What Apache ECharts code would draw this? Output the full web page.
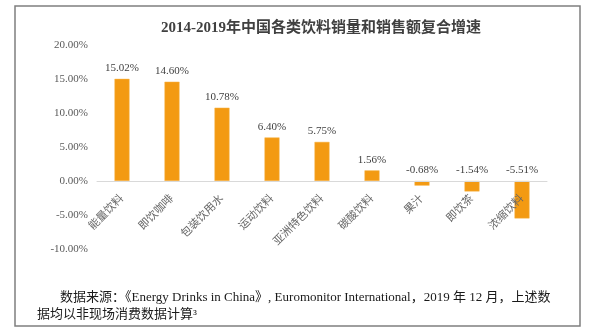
<!DOCTYPE html>
<html><head><meta charset="utf-8">
<script src="https://cdn.jsdelivr.net/npm/echarts@6/dist/echarts.min.js"></script>
<style>html,body{margin:0;padding:0;background:#fff}#c{width:595px;height:330px}</style>
</head><body><div id="c"></div>
<script>
const categories = ['能量饮料','即饮咖啡','包装饮用水','运动饮料','亚洲特色饮料','碳酸饮料','果汁','即饮茶','浓缩饮料'];
const values = [15.02, 14.60, 10.78, 6.40, 5.75, 1.56, -0.68, -1.54, -5.51];
const titleText = '2014-2019年中国各类饮料销量和销售额复合增速';
const noteLine1 = '数据来源：《Energy Drinks in China》, Euromonitor International，2019 年 12 月，上述数';
const noteLine2 = '据均以非现场消费数据计算³';

const serif = '"Liberation Serif","DejaVu Serif","Noto Sans CJK SC",serif';
const chart = echarts.init(document.getElementById('c'), null, {renderer:'canvas'});
chart.setOption({
  animation:false,
  title:{text:titleText,left:316,top:16,textAlign:'center',
    textStyle:{fontFamily:serif,fontSize:15,fontWeight:'bold',color:'#404040'}},
  grid:{left:97,right:48,top:45,bottom:81},
  xAxis:{type:'category',data:categories,z:5,
    axisLine:{onZero:true,lineStyle:{color:'#d9d9d9',width:1}},
    axisTick:{show:false},
    axisLabel:{rotate:45,interval:0,margin:-52,fontFamily:serif,fontSize:11,color:'#666'}},
  yAxis:{type:'value',min:-10,max:20,interval:5,
    axisLine:{show:false},axisTick:{show:false},splitLine:{show:false},
    axisLabel:{formatter:v=>v.toFixed(2)+'%',margin:9,fontFamily:serif,fontSize:11,color:'#595959'}},
  series:[{type:'bar',barWidth:15,z:2,
    data:values,
    itemStyle:{color:'#f39a12',borderColor:'#f6b44a',borderWidth:0.5},
    label:{show:true,position:'top',formatter:p=>p.value.toFixed(2)+'%',fontFamily:serif,fontSize:11,color:'#404040',distance:5}}],
  graphic:[
    {type:'rect',shape:{x:15,y:6,width:565,height:320},style:{fill:'none',stroke:'#7f7f7f',lineWidth:1.5},silent:true},
    {type:'text',left:60,top:291,style:{text:noteLine1,font:'13px '+serif,fill:'#1a1a1a'}},
    {type:'text',left:37,top:308,style:{text:noteLine2,font:'13px '+serif,fill:'#1a1a1a'}}
  ]
});
</script></body></html>
